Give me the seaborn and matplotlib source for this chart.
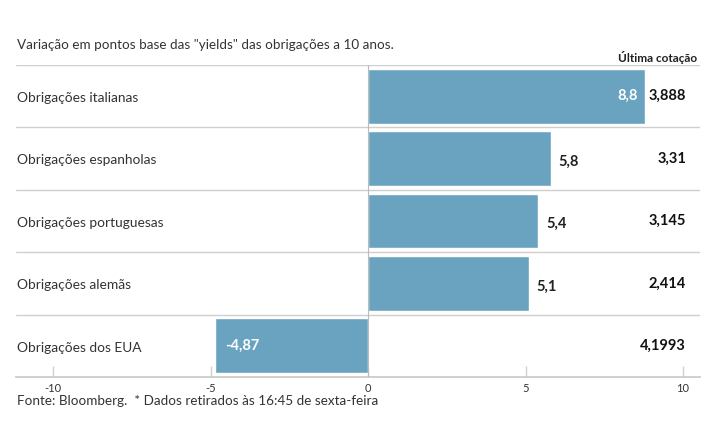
import matplotlib
matplotlib.use('Agg')
import matplotlib.pyplot as plt
import matplotlib.transforms as mtransforms
import seaborn as sns
import pandas as pd

categorias = ["Obrigações italianas", "Obrigações espanholas", "Obrigações portuguesas",
              "Obrigações alemãs", "Obrigações dos EUA"]
variacao = [8.8, 5.8, 5.4, 5.1, -4.87]
rotulos = ["8,8", "5,8", "5,4", "5,1", "-4,87"]
cotacao = ["3,888", "3,31", "3,145", "2,414", "4,1993"]
ticks = [-10, -5, 0, 5, 10]

df = pd.DataFrame({"categoria": categorias, "variacao": variacao})

sns.set_theme(style="white")
plt.rcParams['font.family'] = ['Lato', 'DejaVu Sans']

W, H = 715, 445
fig = plt.figure(figsize=(W / 100, H / 100), dpi=100)
ax = fig.add_axes([16 / W, 68 / H, (700 - 16) / W, (377 - 65) / H])

cor = "#6aa3bf"
sns.barplot(data=df, x="variacao", y="categoria", orient="h", color=cor,
            width=0.88, saturation=1, ax=ax, zorder=2)

# px -> data: 0 at 368px, 31.5 px per unit
x0, esc = 368, 31.5
ax.set_xlim((16 - x0) / esc, (700 - x0) / esc)
ax.set_ylim(4.5, -0.5)

for s in ["top", "right", "left"]:
    ax.spines[s].set_visible(False)
ax.spines["bottom"].set_color("#c8c8c8")
ax.spines["bottom"].set_linewidth(1.2)

ax.set_xticks(ticks)
ax.set_xticklabels([str(t) for t in ticks], fontsize=8, color="#333333")
ax.tick_params(axis="x", direction="in", length=8, width=1, color="#d0d0d0", pad=4, bottom=True)
ax.set_yticks([])
ax.set_xlabel("")
ax.set_ylabel("")

# separators between rows
for y in [-0.5, 0.5, 1.5, 2.5, 3.5]:
    ax.axhline(y, color="#cfcfcf", lw=1, zorder=1)
ax.axvline(0, color="#bbbbbb", lw=0.8, zorder=3)

trans = mtransforms.blended_transform_factory(ax.transAxes, ax.transData)
for i, (cat, v, lab, c) in enumerate(zip(categorias, variacao, rotulos, cotacao)):
    ax.text(0.002, i + 0.03, cat, transform=trans, ha="left", va="center",
            fontsize=9.9, color="#333333")
    if v > 8:
        ax.text(v - 0.25, i, lab, ha="right", va="center", fontsize=10.5,
                color="white", fontweight="bold")
    elif v < 0:
        ax.text(v + 0.35, i, lab, ha="left", va="center", fontsize=10.5,
                color="white", fontweight="bold")
    else:
        ax.text(v + 0.25, i + 0.05, lab, ha="left", va="center", fontsize=10.5,
                color="#222222", fontweight="bold")
    ax.text((686 - x0) / esc, i, c, ha="right", va="center", fontsize=10.5,
            color="#111111", fontweight="bold")

fig.text(17 / W, 1 - 45 / H, 'Variação em pontos base das "yields" das obrigações a 10 anos.',
         ha="left", va="center", fontsize=9.7, color="#333333")
fig.text(697 / W, 1 - 57 / H, "Última cotação", ha="right", va="center",
         fontsize=8.5, color="#222222", fontweight="bold")
fig.text(17 / W, 1 - 401 / H, "Fonte: Bloomberg.  * Dados retirados às 16:45 de sexta-feira",
         ha="left", va="center", fontsize=9.7, color="#333333")

fig.savefig("out.png", dpi=100)
